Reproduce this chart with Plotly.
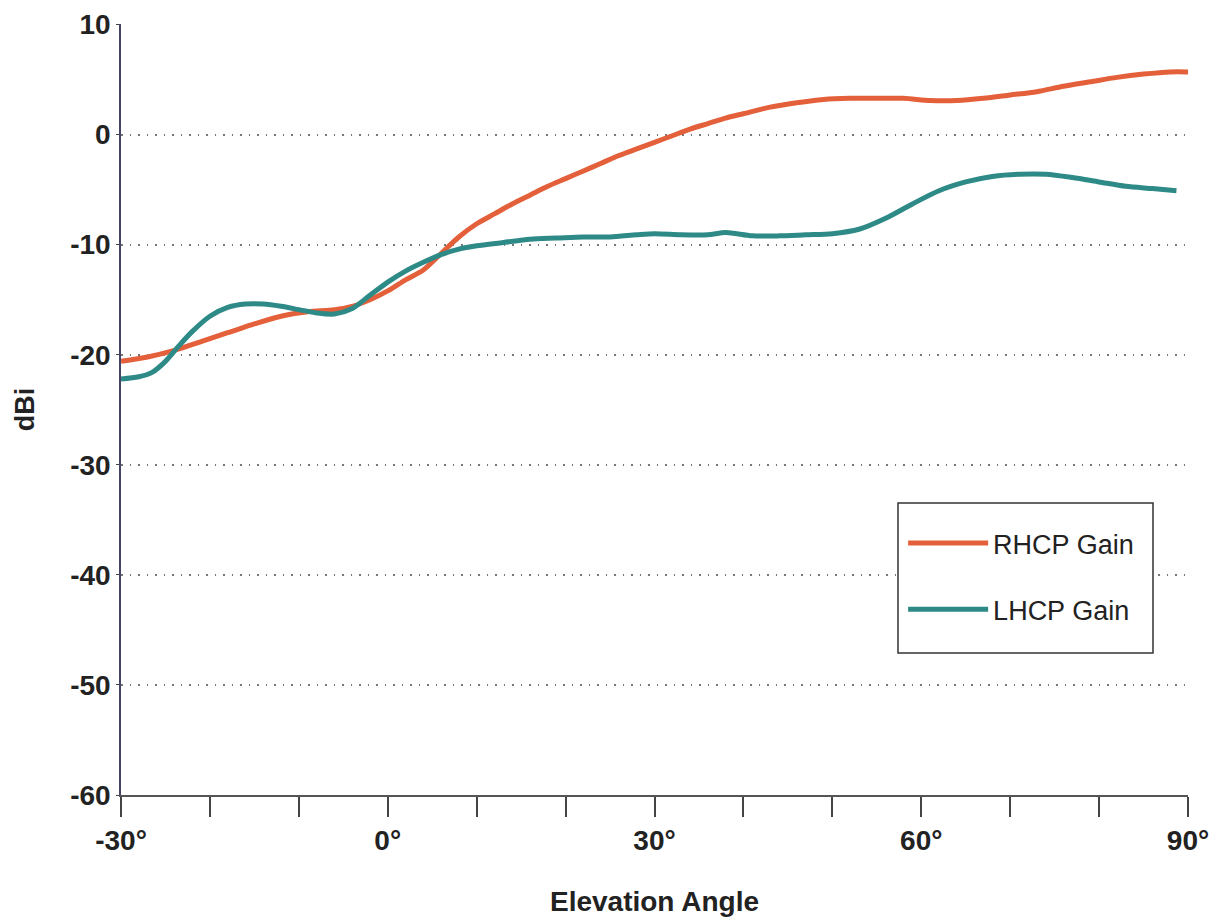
import plotly.graph_objects as go

# Elevation angle (degrees) and gains (dBi)
rhcp_angle = [-30, -27, -24, -21, -18, -15, -12, -9, -6, -4, -2, 0, 2, 4, 6, 8, 10, 12, 14, 16,
              18, 20, 22, 24, 26, 28, 30, 32, 34, 36, 38, 40, 43, 46, 49, 52, 55, 58, 61, 64,
              67, 70, 73, 76, 79, 82, 85, 88, 90]
rhcp_gain = [-20.6, -20.2, -19.6, -18.8, -18.0, -17.2, -16.5, -16.1, -15.9, -15.6, -15.0, -14.2,
             -13.2, -12.3, -10.8, -9.3, -8.1, -7.2, -6.3, -5.5, -4.7, -4.0, -3.3, -2.6, -1.9,
             -1.3, -0.7, -0.1, 0.5, 1.0, 1.5, 1.9, 2.5, 2.9, 3.2, 3.3, 3.3, 3.3, 3.1, 3.1,
             3.3, 3.6, 3.9, 4.4, 4.8, 5.2, 5.5, 5.7, 5.7]

lhcp_angle = [-30, -28, -26.5, -25, -23.5, -22, -20, -18, -16, -14, -12, -10, -8, -6, -4, -2, 0,
              2, 4, 6, 8, 10, 13, 16, 19, 22, 25, 28, 30, 33, 36, 38, 41, 44, 47, 50, 53, 56,
              59, 62, 65, 68, 71, 74, 77, 80, 83, 86, 88.7]
lhcp_gain = [-22.2, -22.0, -21.6, -20.6, -19.2, -17.9, -16.5, -15.7, -15.4, -15.4, -15.6, -15.9,
             -16.2, -16.3, -15.8, -14.6, -13.4, -12.4, -11.6, -10.9, -10.4, -10.1, -9.8, -9.5,
             -9.4, -9.3, -9.3, -9.1, -9.0, -9.1, -9.1, -8.9, -9.2, -9.2, -9.1, -9.0, -8.6,
             -7.6, -6.3, -5.1, -4.3, -3.8, -3.6, -3.6, -3.9, -4.3, -4.7, -4.9, -5.1]

x_tickvals = [-30, -20, -10, 0, 10, 20, 30, 40, 50, 60, 70, 80, 90]
x_ticktext = ["-30°", "", "", "0°", "", "", "30°", "", "", "60°", "", "", "90°"]
y_tickvals = [10, 0, -10, -20, -30, -40, -50, -60]
y_ticktext = ["10", "0", "-10", "-20", "-30", "-40", "-50", "-60"]

ORANGE = "#E4603B"
TEAL = "#2E8A87"
FONT = "Liberation Sans, Arial, sans-serif"
TXT = "#222222"

fig = go.Figure()
fig.add_trace(go.Scatter(x=rhcp_angle, y=rhcp_gain, mode="lines", name="RHCP Gain",
                         legendgroup="r",
                         line=dict(color=ORANGE, width=5, shape="spline", smoothing=0.8)))
fig.add_trace(go.Scatter(x=lhcp_angle, y=lhcp_gain, mode="lines", name="LHCP Gain",
                         legendgroup="l",
                         line=dict(color=TEAL, width=5, shape="spline", smoothing=0.8)))

# legend frame (box behind the legend entries)
fig.add_shape(type="rect", xref="paper", yref="paper",
              x0=0.7282, x1=0.9672, y0=0.1842, y1=0.3787,
              line=dict(color="#333333", width=1.5), fillcolor="white", layer="above")

# the page body adds an 8px margin, so the figure is 8px smaller and margins shifted
fig.update_layout(
    width=1220, height=913,
    margin=dict(l=113, r=40, t=16, b=126, autoexpand=False),
    paper_bgcolor="white", plot_bgcolor="white",
    font=dict(family=FONT, color=TXT),
    showlegend=True,
    legend=dict(x=0.733, y=0.358, xanchor="left", yanchor="top",
                bgcolor="rgba(0,0,0,0)", borderwidth=0,
                font=dict(size=27, family=FONT, color=TXT),
                tracegroupgap=28, itemwidth=80),
)
fig.update_xaxes(
    range=[-30, 90], tickvals=x_tickvals, ticktext=x_ticktext, automargin=False,
    ticks="outside", ticklen=20, tickwidth=1.5, tickcolor="#444444",
    showline=True, linecolor="#555555", linewidth=1.5,
    showgrid=False, zeroline=False,
    tickfont=dict(size=28, family=FONT, color=TXT, weight="bold"),
    title=dict(text="<b>Elevation Angle</b>", font=dict(size=28, family=FONT, color=TXT),
               standoff=36),
)
fig.update_yaxes(
    range=[-60, 10.05], tickvals=y_tickvals, ticktext=y_ticktext, automargin=False,
    ticks="outside", ticklen=3, tickcolor="#444444",
    showline=True, linecolor="#444466", linewidth=1.5,
    showgrid=True, gridcolor="#777777", gridwidth=1.5, griddash="1.5px,7px",
    zeroline=False,
    tickfont=dict(size=28, family=FONT, color=TXT, weight="bold"),
    title=dict(text="<b>dBi</b>", font=dict(size=27, family=FONT, color=TXT),
               standoff=28),
)

fig.write_html("out.html")
